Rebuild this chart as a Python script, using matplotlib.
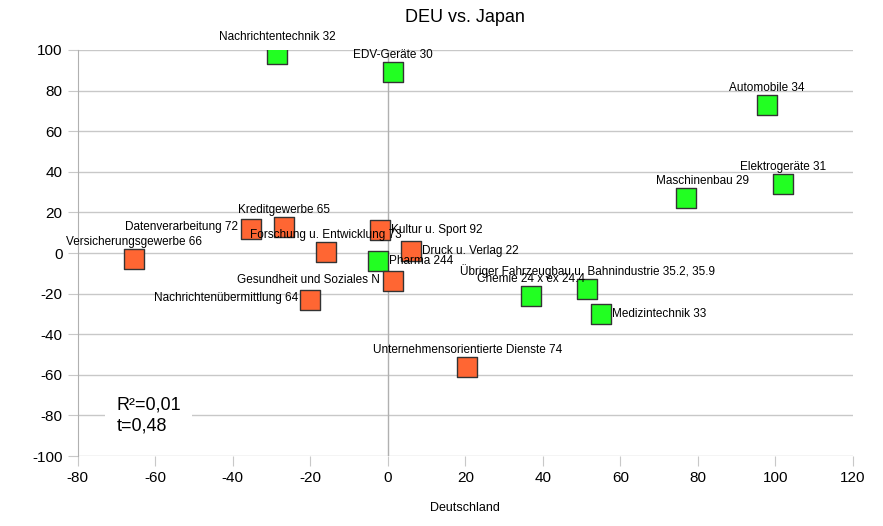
import matplotlib.pyplot as plt

plt.rcParams["font.family"] = ["Liberation Sans", "DejaVu Sans"]
plt.rcParams["axes.unicode_minus"] = False

labels = ["Nachrichtentechnik 32", "EDV-Geräte 30", "Automobile 34", "Elektrogeräte 31",
          "Maschinenbau 29", "Kreditgewerbe 65", "Datenverarbeitung 72", "Kultur u. Sport 92",
          "Forschung u. Entwicklung 73", "Druck u. Verlag 22", "Versicherungsgewerbe 66",
          "Pharma 244", "Gesundheit und Soziales N", "Nachrichtenübermittlung 64",
          "Chemie 24 x ex 24.4", "Übriger Fahrzeugbau u. Bahnindustrie 35.2, 35.9",
          "Medizintechnik 33", "Unternehmensorientierte Dienste 74"]
x_vals = [-28.6, 1.3, 97.8, 102, 77, -26.8, -35.4, -2, -16, 6, -65.5, -2.5, 1.3, -20, 37, 51.5, 55, 20.5]
y_vals = [98, 89, 73, 34, 27, 13, 12, 11.5, 0.5, 1, -3, -4, -14, -23, -21, -17.6, -30, -56]
is_green = [1, 1, 1, 1, 1, 0, 0, 0, 0, 0, 0, 1, 0, 0, 1, 1, 1, 0]
placement = ["top", "top", "top", "top", "topr", "top", "left", "right", "top", "right",
             "top", "right", "left", "left", "top", "top", "right", "top"]

offsets = {"top": (0, 8, "center", "bottom"), "topr": (12, 8, "center", "bottom"),
           "left": (-9, 1, "right", "center"), "right": (8, 0, "left", "center")}

fig, ax = plt.subplots(figsize=(8.83, 5.26), dpi=100)
fig.subplots_adjust(left=0.088, right=0.966, top=0.905, bottom=0.133)

for yy in range(-100, 101, 20):
    ax.axhline(yy, color="#c8c8c8", lw=1, zorder=0)
ax.axvline(0, color="#b0b0b0", lw=1, zorder=0)

for lab, xv, yv, g, pl in zip(labels, x_vals, y_vals, is_green, placement):
    ax.scatter(xv, yv, marker="s", s=190, color="#22ff22" if g else "#ff6633",
               edgecolor="#333333", linewidth=1, zorder=3)
    dx, dy, ha, va = offsets[pl]
    ax.annotate(lab, (xv, yv), xytext=(dx, dy), textcoords="offset points",
                ha=ha, va=va, fontsize=8.5, zorder=4)

ax.set_xlim(-80, 120)
ax.set_ylim(-100, 100)
ax.set_xticks(range(-80, 121, 20))
ax.set_yticks(range(-100, 101, 20))
ax.tick_params(labelsize=11, length=7, color="#c8c8c8", pad=4)
for s in ["top", "right", "bottom"]:
    ax.spines[s].set_visible(False)
ax.spines["left"].set_color("#b0b0b0")
ax.set_title("DEU vs. Japan", fontsize=13, pad=20)
ax.set_xlabel("Deutschland", fontsize=9, labelpad=12)

ax.text(-70, -80, "R²=0,01\nt=0,48", fontsize=13, va="center", linespacing=1.3,
        bbox=dict(facecolor="white", edgecolor="none", pad=8))

fig.savefig("out.png")
